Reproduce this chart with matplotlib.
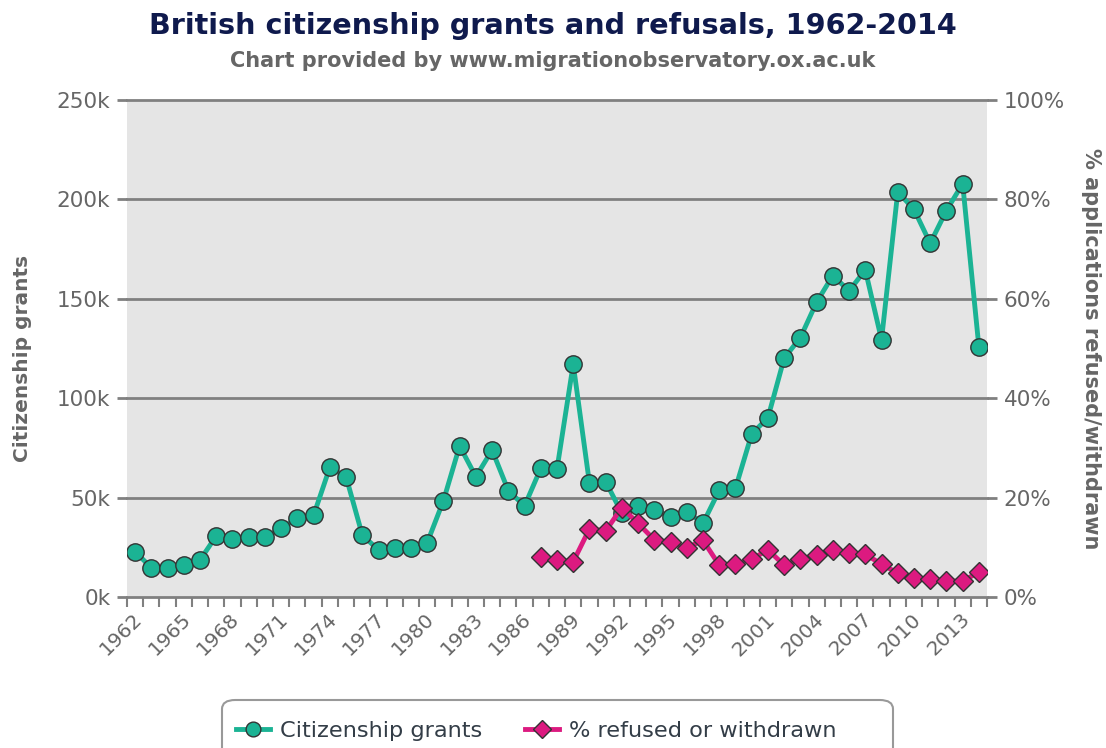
import numpy as np
import matplotlib.pyplot as plt
from matplotlib.patches import FancyBboxPatch
from matplotlib.transforms import ScaledTranslation

plt.rcParams['font.family'] = ['DejaVu Sans']

years = np.arange(1962, 2015)
grants = [22.8, 14.7, 14.4, 16.1, 18.6, 30.7, 29.0, 30.4, 30.0, 34.5,
          39.6, 41.1, 65.2, 60.5, 31.2, 23.6, 24.8, 24.5, 27.3, 48.4,
          76.0, 60.5, 73.9, 53.5, 45.8, 64.7, 64.4, 117.1, 57.2, 58.0,
          42.1, 45.9, 43.8, 40.4, 42.9, 37.1, 53.7, 54.7, 82.0, 90.2,
          120.1, 130.5, 148.3, 161.7, 154.0, 164.5, 129.4, 203.8, 195.0, 177.9,
          194.4, 207.9, 125.8]
grants = np.array(grants) * 1000

ref_years = np.arange(1987, 2015)
refused = [8.0, 7.4, 7.1, 13.7, 13.3, 18.0, 14.8, 11.5, 11.0, 9.9,
           11.4, 6.4, 6.6, 7.6, 9.5, 6.4, 7.6, 8.5, 9.5, 8.9,
           8.6, 6.6, 4.8, 3.8, 3.6, 3.2, 3.2, 5.0]

left_ticks = [0, 50000, 100000, 150000, 200000, 250000]
left_labels = ['0k', '50k', '100k', '150k', '200k', '250k']
right_ticks = [0, 20, 40, 60, 80, 100]
right_labels = ['0%', '20%', '40%', '60%', '80%', '100%']

teal = '#1bb394'
pink = '#dc1a80'
grid = '#808080'
txt = '#666666'

W, H = 1106, 748
fig = plt.figure(figsize=(W / 100, H / 100), dpi=100)
ax = fig.add_axes([127 / W, 151 / H, 860 / W, 497 / H])
ax.set_facecolor('#e5e5e5')
ax2 = ax.twinx()

for a in (ax, ax2):
    for s in a.spines.values():
        s.set_visible(False)

ax.set_xlim(1961.5, 2014.5)
ax.set_ylim(0, 250000)
ax2.set_ylim(0, 100)

for v in left_ticks:
    ax.axhline(v, color=grid, lw=2, zorder=1, clip_on=False)

ax.set_yticks(left_ticks)
ax.set_yticklabels(left_labels)
ax.tick_params(axis='y', length=7, width=2, color=grid, labelcolor=txt,
               labelsize=15.5, pad=5)
ax2.set_yticks(right_ticks)
ax2.set_yticklabels(right_labels)
ax2.tick_params(axis='y', length=7, width=2, color=grid, labelcolor=txt,
                labelsize=15.5, pad=5)

ax.set_xticks(years[::3])
ax.set_xticklabels([str(y) for y in years[::3]], rotation=45, ha='right',
                   va='top', rotation_mode='anchor')
ax.set_xticks(np.append(years - 0.5, years[-1] + 0.5), minor=True)
ax.tick_params(axis='x', which='major', length=0, labelcolor=txt,
               labelsize=14.5, pad=9)
ax.tick_params(axis='x', which='minor', length=7, width=1.5, color=grid)
off = ScaledTranslation(-2 / 72, 0, fig.dpi_scale_trans)
for lab in ax.get_xticklabels():
    lab.set_transform(lab.get_transform() + off)

l1, = ax.plot(years, grants, color=teal, lw=3.5, marker='o', markersize=12.5,
              markerfacecolor=teal, markeredgecolor='#333333', markeredgewidth=1,
              zorder=3, label='Citizenship grants')
l2, = ax2.plot(ref_years, refused, color=pink, lw=3.5, marker='D', markersize=10.5,
               markerfacecolor=pink, markeredgecolor='#333333', markeredgewidth=1,
               zorder=3, label='% refused or withdrawn')

ax.set_ylabel('Citizenship grants', fontsize=14.5, fontweight='bold', color=txt)
ax.yaxis.set_label_coords(-0.111, 0.48)
ax2.set_ylabel('% applications refused/withdrawn', fontsize=15,
               fontweight='bold', color=txt, rotation=-90, labelpad=26)

fig.text(0.5, 1 - 26 / H, 'British citizenship grants and refusals, 1962-2014',
         ha='center', va='center', fontsize=20.6, fontweight='bold',
         color='#0f1a4d')
fig.text(0.5, 1 - 61 / H, 'Chart provided by www.migrationobservatory.ox.ac.uk',
         ha='center', va='center', fontsize=15, fontweight='bold', color=txt)

box = FancyBboxPatch((222 / W, -0.05), 671 / W, (748 - 700) / H + 0.05,
                     boxstyle='round,pad=0,rounding_size=0.012',
                     transform=fig.transFigure, facecolor='white',
                     edgecolor='#999999', lw=1.5, clip_on=False)
fig.patches.append(box)
leg = fig.legend(handles=[l1, l2], loc='center', ncol=2, frameon=False,
                 bbox_to_anchor=(536 / W, 1 - 731 / H), fontsize=16.2,
                 handlelength=1.5, columnspacing=1.9, handletextpad=0.45,
                 markerscale=0.85)
for t in leg.get_texts():
    t.set_color('#333d47')

fig.savefig('out.png', dpi=100)
